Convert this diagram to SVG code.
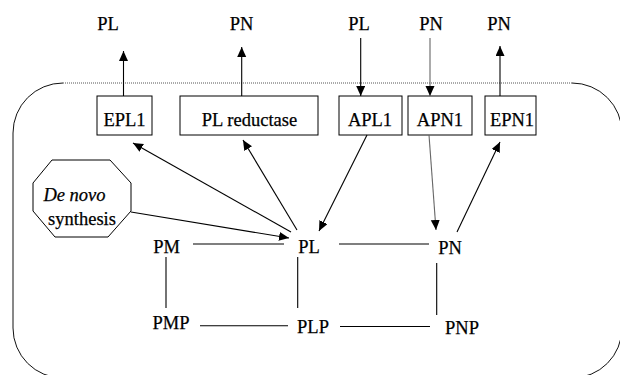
<svg xmlns="http://www.w3.org/2000/svg" width="620" height="375" viewBox="0 0 620 375">
<style>
  text { font-family: "Liberation Serif", "Times New Roman", serif; font-size: 18.5px; fill: #000; stroke: #000; stroke-width: 0.25px; text-anchor: middle; }
  .box { fill: #fff; stroke: #000; stroke-width: 1; }
  .ln { stroke: #000; stroke-width: 1.1; fill: none; }
  .ar { stroke: #000; stroke-width: 1.1; fill: none; marker-end: url(#ah); }
  .arg { stroke: #666; stroke-width: 1.1; fill: none; marker-end: url(#ah); }
  .cell { fill: none; stroke: #111; stroke-width: 1; }
</style>
<defs>
  <marker id="ah" markerUnits="userSpaceOnUse" markerWidth="12" markerHeight="10" refX="10" refY="4.5" orient="auto">
    <path d="M0,0 L10,4.5 L0,9 Z" fill="#000"/>
  </marker>
</defs>
<rect width="620" height="375" fill="#fff"/>

<g id="cell">
  <path class="cell" d="M 572 83 A 50 50 0 0 1 622 133 L 622 328 A 50 50 0 0 1 572 378 L 63 378 A 50 50 0 0 1 13 328 L 13 133 A 50 50 0 0 1 63 83"/>
  <line x1="63" y1="83" x2="572" y2="83" stroke="#555" stroke-width="1" stroke-dasharray="1 1"/>
</g>

<g id="top-labels">
  <text x="108" y="30">PL</text>
  <text x="241.5" y="30">PN</text>
  <text x="359" y="30">PL</text>
  <text x="431" y="30">PN</text>
  <text x="499" y="30">PN</text>
</g>

<g id="EPL1"><rect class="box" x="97" y="96" width="55" height="39"/><text x="124.5" y="126">EPL1</text></g>
<g id="PLreductase"><rect class="box" x="180" y="96" width="138" height="39"/><text x="249.5" y="126">PL reductase</text></g>
<g id="APL1"><rect class="box" x="339" y="96" width="63" height="39"/><text x="370" y="126">APL1</text></g>
<g id="APN1"><rect class="box" x="408" y="96" width="64" height="39"/><text x="440" y="126">APN1</text></g>
<g id="EPN1"><rect class="box" x="485" y="96" width="51" height="39"/><text x="512" y="126">EPN1</text></g>

<g id="denovo">
  <polygon class="box" points="52,160 110,160 131,183 131,211 108,237 55,237 33,211 33,183"/>
  <text x="74.5" y="201" font-style="italic">De novo</text>
  <text x="82" y="225">synthesis</text>
</g>

<g id="PM"><text x="166.5" y="253">PM</text></g>
<g id="PL"><text x="309" y="252.5">PL</text></g>
<g id="PN"><text x="450" y="253.5">PN</text></g>
<g id="PMP"><text x="171" y="329">PMP</text></g>
<g id="PLP"><text x="313" y="333">PLP</text></g>
<g id="PNP"><text x="462" y="334">PNP</text></g>

<g id="connectors">
  <line class="ar" x1="123.5" y1="96" x2="123.5" y2="51"/>
  <line class="ar" x1="241.7" y1="96" x2="241.7" y2="47"/>
  <line class="ar" x1="360.7" y1="38" x2="360.7" y2="96"/>
  <line class="arg" x1="430" y1="38" x2="430" y2="96"/>
  <line class="ar" x1="500" y1="96" x2="500" y2="46"/>

  <line class="ar" x1="291" y1="232" x2="133" y2="143"/>
  <line class="ar" x1="297" y1="230" x2="243" y2="140"/>
  <line class="ar" x1="367" y1="135" x2="319" y2="231"/>
  <line class="arg" x1="429" y1="135" x2="436" y2="230"/>
  <line class="ar" x1="457" y1="232" x2="500" y2="142"/>
  <line class="ar" x1="131" y1="212" x2="289" y2="238"/>

  <line class="ln" x1="193" y1="244" x2="284" y2="244"/>
  <line class="ln" x1="339" y1="244" x2="429" y2="244"/>
  <line class="ln" x1="166" y1="257" x2="166" y2="308"/>
  <line class="ln" x1="297.7" y1="257" x2="297.7" y2="308"/>
  <line class="ln" x1="436.7" y1="263" x2="436.7" y2="315"/>
  <line class="ln" x1="200" y1="325.7" x2="288" y2="325.7"/>
  <line class="ln" x1="340" y1="326.5" x2="430" y2="326.5"/>
</g>
</svg>
